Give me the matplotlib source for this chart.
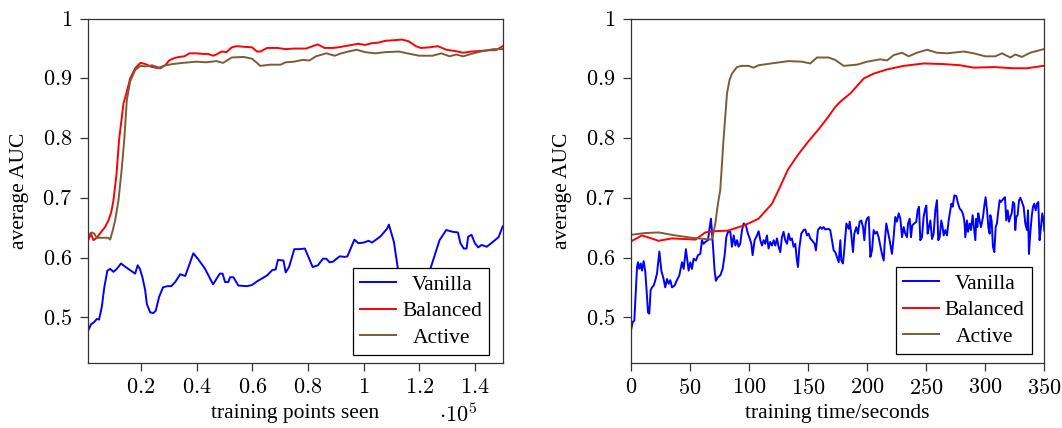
import matplotlib
matplotlib.use("Agg")
import matplotlib.pyplot as plt
from matplotlib.ticker import FixedLocator

# ---------------- data ----------------
# left panel: x in units of 1e5 training points
left_vanilla_x = [0.0105, 0.020, 0.032, 0.041, 0.049, 0.059, 0.068, 0.079, 0.089, 0.101, 0.113, 0.128,
                  0.142, 0.154, 0.179, 0.188, 0.196, 0.205, 0.215, 0.221, 0.233, 0.245, 0.253, 0.265,
                  0.279, 0.294, 0.309, 0.323, 0.341, 0.359, 0.388, 0.404, 0.429, 0.459, 0.483, 0.493,
                  0.502, 0.514, 0.520, 0.532, 0.550, 0.581, 0.599, 0.617, 0.653, 0.672, 0.684, 0.692,
                  0.712, 0.720, 0.732, 0.751, 0.769, 0.789, 0.817, 0.836, 0.854, 0.866, 0.878, 0.890,
                  0.914, 0.933, 0.942, 0.967, 0.981, 1.000, 1.018, 1.030, 1.060, 1.084, 1.091, 1.109,
                  1.13, 1.17, 1.21, 1.242, 1.273, 1.297, 1.321, 1.339, 1.348, 1.360, 1.370, 1.376,
                  1.388, 1.400, 1.412, 1.424, 1.443, 1.464, 1.485, 1.500]
left_vanilla_y = [0.478, 0.488, 0.492, 0.497, 0.496, 0.517, 0.550, 0.578, 0.581, 0.576, 0.581, 0.590,
                  0.585, 0.581, 0.573, 0.587, 0.581, 0.567, 0.545, 0.522, 0.508, 0.507, 0.511, 0.534,
                  0.550, 0.552, 0.552, 0.559, 0.572, 0.569, 0.607, 0.598, 0.582, 0.555, 0.573, 0.573,
                  0.559, 0.559, 0.567, 0.567, 0.553, 0.552, 0.554, 0.560, 0.570, 0.579, 0.580, 0.596,
                  0.595, 0.575, 0.584, 0.614, 0.614, 0.615, 0.584, 0.587, 0.598, 0.598, 0.592, 0.593,
                  0.602, 0.601, 0.602, 0.630, 0.624, 0.625, 0.628, 0.625, 0.635, 0.648, 0.655, 0.626,
                  0.560, 0.545, 0.555, 0.584, 0.629, 0.646, 0.643, 0.642, 0.624, 0.615, 0.615, 0.635,
                  0.638, 0.624, 0.617, 0.621, 0.618, 0.626, 0.634, 0.652]

left_balanced_x = [0.0105, 0.013, 0.020, 0.029, 0.041, 0.057, 0.071, 0.083, 0.093, 0.101, 0.112, 0.121,
                   0.137, 0.149, 0.161, 0.179, 0.198, 0.216, 0.234, 0.252, 0.270, 0.289, 0.301, 0.319,
                   0.337, 0.356, 0.374, 0.398, 0.422, 0.441, 0.459, 0.471, 0.489, 0.507, 0.526, 0.544,
                   0.568, 0.599, 0.617, 0.629, 0.653, 0.690, 0.720, 0.750, 0.793, 0.817, 0.835, 0.860,
                   0.890, 0.908, 0.933, 0.957, 0.981, 1.005, 1.030, 1.054, 1.078, 1.109, 1.139, 1.163,
                   1.188, 1.206, 1.236, 1.267, 1.297, 1.327, 1.358, 1.388, 1.418, 1.449, 1.479, 1.500]
left_balanced_y = [0.629, 0.632, 0.640, 0.629, 0.633, 0.643, 0.651, 0.662, 0.676, 0.696, 0.740, 0.797,
                   0.858, 0.878, 0.900, 0.917, 0.926, 0.924, 0.920, 0.918, 0.917, 0.923, 0.930, 0.934,
                   0.936, 0.937, 0.942, 0.942, 0.941, 0.941, 0.938, 0.940, 0.945, 0.944, 0.952, 0.954,
                   0.953, 0.952, 0.945, 0.945, 0.951, 0.951, 0.949, 0.950, 0.950, 0.954, 0.957, 0.951,
                   0.951, 0.952, 0.954, 0.956, 0.958, 0.956, 0.959, 0.960, 0.963, 0.964, 0.965, 0.962,
                   0.954, 0.951, 0.952, 0.954, 0.948, 0.946, 0.943, 0.945, 0.946, 0.947, 0.948, 0.954]

left_active_x = [0.0105, 0.0227, 0.032, 0.041, 0.053, 0.071, 0.083, 0.089, 0.097, 0.107, 0.119, 0.130,
                 0.140, 0.149, 0.161, 0.179, 0.198, 0.216, 0.240, 0.264, 0.289, 0.313, 0.350, 0.374,
                 0.398, 0.435, 0.471, 0.495, 0.526, 0.568, 0.599, 0.629, 0.665, 0.702, 0.720, 0.750,
                 0.781, 0.805, 0.829, 0.866, 0.896, 0.920, 0.945, 0.975, 1.005, 1.042, 1.078, 1.127,
                 1.157, 1.200, 1.248, 1.279, 1.309, 1.333, 1.358, 1.394, 1.431, 1.467, 1.500]
left_active_y = [0.638, 0.642, 0.640, 0.633, 0.633, 0.633, 0.633, 0.630, 0.643, 0.662, 0.696, 0.745,
                 0.799, 0.864, 0.895, 0.914, 0.921, 0.920, 0.922, 0.918, 0.922, 0.924, 0.926, 0.927,
                 0.928, 0.927, 0.929, 0.926, 0.935, 0.936, 0.933, 0.921, 0.923, 0.923, 0.927, 0.928,
                 0.931, 0.930, 0.937, 0.942, 0.938, 0.942, 0.945, 0.948, 0.944, 0.942, 0.944, 0.945,
                 0.942, 0.938, 0.938, 0.942, 0.937, 0.940, 0.937, 0.942, 0.946, 0.949, 0.949]

# right panel: x in seconds
right_vanilla_x = [0.0, 1.4, 2.8, 5.1, 5.9, 7.0, 8.2, 9.3, 10.7, 12.1, 13.2, 14.4, 15.5, 16.6, 17.8,
                   19.2, 20.6, 22.0, 24.0, 25.7, 27.6, 29.0, 30.5, 31.9, 33.3, 34.7, 36.9, 38.9, 40.9,
                   43.2, 44.6, 46.5, 48.8, 50.2, 51.6, 53.0, 55.0, 56.7, 58.7, 60.1, 61.5, 62.9, 65.2,
                   66.3, 67.7, 69.1, 70.8, 71.9, 73.6, 75.6, 77.6, 79.3, 80.7, 82.1, 84.1, 85.5, 87.0,
                   88.4, 89.8, 91.1, 92.5, 94.0, 95.4, 97.3, 99.0, 100.2, 101.9, 103.0, 104.7, 106.7,
                   108.1, 109.5, 110.9, 112.3, 113.7, 115.1, 116.5, 117.9, 119.4, 120.8, 122.2, 123.6,
                   125.0, 126.4, 127.8, 129.2, 130.6, 132.1, 133.5, 134.9, 136.3, 137.7, 139.1, 140.5,
                   141.4, 142.5, 144.2, 146.2, 147.6, 149.0, 150.4, 151.8, 153.2, 155.5, 156.6, 158.3,
                   160.3, 161.7, 163.1, 164.5, 167.3, 168.7, 170.2,
                   171.6, 173.0, 174.4, 175.9, 177.3, 178.1, 179.5, 180.7, 182.4, 184.3, 185.2, 186.3,
                   188.0, 189.1, 190.8, 192.2, 193.6, 195.0, 196.5, 197.6, 198.7, 199.8, 201.3, 202.7,
                   204.1, 205.5, 206.9, 208.3, 209.7, 211.1, 212.5, 214.0, 214.8, 216.2, 217.3, 219.0,
                   221.0, 222.4, 223.8, 225.2, 226.7, 228.1, 229.5, 230.9, 232.3, 233.7, 234.6, 236.0,
                   237.1, 238.2, 239.9, 241.6, 242.7, 243.9, 245.0, 246.4, 247.8, 249.2, 250.1, 251.2,
                   252.3, 253.5, 254.9, 256.3, 257.7, 259.1, 260.2, 261.4, 262.8, 263.9, 264.8, 266.2,
                   267.6, 269.0, 270.4, 271.3, 272.4, 273.8, 275.5, 276.6, 278.3, 279.7, 280.9, 281.7,
                   282.5, 283.1, 284.5, 285.4, 286.8, 287.9, 289.3, 290.4, 291.6, 292.4, 293.3, 294.1,
                   295.2, 296.4, 298.1, 299.2, 300.3, 301.5, 302.6, 303.7, 304.3, 305.4, 306.5, 307.7,
                   308.8, 309.9, 310.8, 312.2, 313.3, 314.4, 315.6, 316.7, 317.8, 319.0, 320.1, 321.2,
                   322.4, 323.5, 324.6, 325.4, 326.3, 327.4, 328.6, 329.7, 331.1, 332.5, 333.9, 335.3,
                   336.2, 337.0, 338.1, 339.3, 340.4, 341.5, 342.7, 343.8, 344.9, 346.0, 347.2, 348.3,
                   349.4, 350.0]
right_vanilla_y = [0.478, 0.492, 0.494, 0.584, 0.592, 0.581, 0.590, 0.578, 0.594, 0.576, 0.545, 0.508,
                   0.506, 0.545, 0.550, 0.553, 0.562, 0.573, 0.610, 0.578, 0.564, 0.550, 0.564, 0.556,
                   0.562, 0.550, 0.553, 0.562, 0.570, 0.592, 0.581, 0.614, 0.578, 0.592, 0.581, 0.598,
                   0.595, 0.604, 0.606, 0.629, 0.623, 0.626, 0.629, 0.646, 0.665, 0.629, 0.578, 0.561,
                   0.567, 0.570, 0.581, 0.604, 0.634, 0.643, 0.643, 0.618, 0.637, 0.620, 0.629, 0.618,
                   0.623, 0.646, 0.657, 0.654, 0.640, 0.634, 0.623, 0.604, 0.629, 0.637, 0.644, 0.629,
                   0.620, 0.629, 0.623, 0.637, 0.615, 0.626, 0.620, 0.629, 0.620, 0.632, 0.618, 0.609,
                   0.634, 0.643, 0.629, 0.623, 0.640, 0.629, 0.632, 0.618, 0.623, 0.595, 0.584, 0.615,
                   0.640, 0.646, 0.647, 0.637, 0.640, 0.632, 0.629, 0.623, 0.612, 0.646, 0.651, 0.648,
                   0.651, 0.647, 0.648, 0.646, 0.629,
                   0.612, 0.609, 0.601, 0.592, 0.629, 0.595, 0.590, 0.615, 0.657, 0.648, 0.660, 0.643,
                   0.609, 0.640, 0.651, 0.640, 0.660, 0.662, 0.651, 0.629, 0.657, 0.665, 0.668, 0.601,
                   0.612, 0.646, 0.640, 0.643, 0.634, 0.620, 0.606, 0.595, 0.623, 0.657, 0.646, 0.629,
                   0.606, 0.634, 0.668, 0.660, 0.674, 0.665, 0.634, 0.651, 0.640, 0.634, 0.657, 0.665,
                   0.634, 0.654, 0.657, 0.660, 0.679, 0.685, 0.629, 0.634, 0.668, 0.682, 0.687, 0.640,
                   0.651, 0.662, 0.631, 0.640, 0.679, 0.696, 0.629, 0.634, 0.662, 0.651, 0.637, 0.646,
                   0.637, 0.662, 0.679, 0.690, 0.685, 0.704, 0.703, 0.693, 0.682, 0.679, 0.674, 0.668,
                   0.657, 0.634, 0.662, 0.643, 0.657, 0.646, 0.671, 0.651, 0.629, 0.665, 0.651, 0.674,
                   0.662, 0.651, 0.668, 0.687, 0.701, 0.679, 0.651, 0.640, 0.671, 0.662, 0.618, 0.609,
                   0.651, 0.657, 0.674, 0.696, 0.693, 0.696, 0.699, 0.701, 0.662, 0.679, 0.660, 0.668,
                   0.674, 0.693, 0.690, 0.646, 0.668, 0.671, 0.696, 0.700, 0.693, 0.685, 0.657, 0.646,
                   0.679, 0.606, 0.640, 0.668, 0.685, 0.690, 0.679, 0.690, 0.693, 0.629, 0.651, 0.674,
                   0.662, 0.645]

right_balanced_x = [0.0, 9.3, 23.4, 34.7, 54.5, 62.9, 69.7, 82.1, 89.8, 96.2, 108.0, 119.4, 125.0,
                    132.8, 141.4, 150.0, 158.6, 167.2, 172.9, 177.3, 185.8, 197.2, 205.5, 216.8,
                    230.9, 247.8, 264.8, 278.9, 290.2, 307.8, 315.6, 324.0, 335.3, 349.4, 350.0]
right_balanced_y = [0.627, 0.637, 0.628, 0.632, 0.630, 0.642, 0.644, 0.645, 0.650, 0.654, 0.665, 0.690,
                    0.713, 0.747, 0.772, 0.794, 0.814, 0.836, 0.852, 0.861, 0.875, 0.900, 0.908, 0.915,
                    0.921, 0.925, 0.924, 0.922, 0.918, 0.919, 0.918, 0.917, 0.917, 0.921, 0.921]

right_active_x = [0.0, 12.1, 23.4, 37.5, 51.6, 62.9, 68.0, 69.1, 71.4, 73.6, 75.6, 78.4, 81.3, 83.5,
                  85.5, 89.7, 94.0, 99.6, 103.8, 108.0, 122.2, 133.5, 144.8, 151.8, 157.5, 167.3,
                  172.9, 180.1, 191.4, 199.8, 211.1, 216.8, 222.4, 229.5, 235.1, 242.2, 250.7, 259.1,
                  267.6, 281.7, 290.2, 300.0, 308.5, 314.2, 321.2, 325.4, 331.1, 338.1, 349.4, 350.0]
right_active_y = [0.638, 0.641, 0.642, 0.637, 0.633, 0.631, 0.630, 0.634, 0.657, 0.690, 0.713, 0.799,
                  0.875, 0.898, 0.908, 0.919, 0.921, 0.921, 0.918, 0.922, 0.926, 0.929, 0.928, 0.925,
                  0.935, 0.935, 0.931, 0.921, 0.923, 0.928, 0.932, 0.930, 0.939, 0.943, 0.937, 0.943,
                  0.948, 0.943, 0.942, 0.945, 0.942, 0.937, 0.937, 0.942, 0.935, 0.940, 0.936, 0.943,
                  0.949, 0.949]

series_labels = ["Vanilla", "Balanced", "Active"]
left_xticks = [0.2, 0.4, 0.6, 0.8, 1.0, 1.2, 1.4]
left_xticklabels = ["0.2", "0.4", "0.6", "0.8", "1", "1.2", "1.4"]
right_xticks = [0, 50, 100, 150, 200, 250, 300, 350]
yticks = [0.5, 0.6, 0.7, 0.8, 0.9, 1.0]
yticklabels = ["0.5", "0.6", "0.7", "0.8", "0.9", "1"]

# ---------------- style ----------------
plt.rcParams['mathtext.fontset'] = 'cm'
plt.rcParams['font.family'] = ['Liberation Serif', 'DejaVu Serif']
FS_TICK = 16
FS_TEXT = 15.5
colors = ['#0000ff', '#ff0000', '#7d5b38']
spine_col = '#333333'

fig = plt.figure(figsize=(10.62, 4.28), dpi=100)
W, H = 1062.0, 428.0
axL = fig.add_axes([88.3 / W, 1 - 363 / H, 414.4 / W, 344.3 / H])
axR = fig.add_axes([631.0 / W, 1 - 363 / H, 413.3 / W, 344.3 / H])

def style_axis(ax):
    for s in ax.spines.values():
        s.set_color(spine_col)
        s.set_linewidth(0.9)
    ax.tick_params(direction='out', length=5.5, width=0.9, color=spine_col,
                   top=False, right=False, pad=6)
    ax.set_ylim(0.4233, 1.0)
    ax.yaxis.set_major_locator(FixedLocator(yticks))
    ax.set_yticklabels(['$%s$' % t for t in yticklabels], fontsize=FS_TICK)
    ax.set_ylabel("average AUC", fontsize=FS_TEXT, va='center')
    ax.yaxis.set_label_coords(-0.165, 0.5)

def add_legend(ax, anchor):
    leg = ax.legend(series_labels, loc='lower right', bbox_to_anchor=anchor,
                    borderaxespad=0, fontsize=FS_TEXT, frameon=True, fancybox=False,
                    edgecolor='black', framealpha=1, handlelength=1.67,
                    handletextpad=0.28, borderpad=0.33, labelspacing=0.3)
    leg.get_frame().set_linewidth(0.9)
    return leg

# left panel
lw = 1.4
axL.plot(left_vanilla_x, left_vanilla_y, color=colors[0], lw=lw)
axL.plot(left_balanced_x, left_balanced_y, color=colors[1], lw=lw)
axL.plot(left_active_x, left_active_y, color=colors[2], lw=lw)
axL.set_xlim(0.0105, 1.5)
axL.xaxis.set_major_locator(FixedLocator(left_xticks))
axL.set_xticklabels(['$%s$' % t for t in left_xticklabels], fontsize=FS_TICK)
style_axis(axL)
axL.set_xlabel("training points seen", fontsize=FS_TEXT)
axL.xaxis.set_label_coords(0.5, -0.147)
axL.xaxis.label.set_va('center')
fig.text(458 / W, 1.5 / H, r'$\cdot 10^{5}$', fontsize=FS_TICK, ha='center', va='bottom')
legL = add_legend(axL, (0.967, 0.023))

# right panel
axR.plot(right_vanilla_x, right_vanilla_y, color=colors[0], lw=lw)
axR.plot(right_balanced_x, right_balanced_y, color=colors[1], lw=lw)
axR.plot(right_active_x, right_active_y, color=colors[2], lw=lw)
axR.set_xlim(0, 350)
axR.xaxis.set_major_locator(FixedLocator(right_xticks))
axR.set_xticklabels(['$%d$' % t for t in right_xticks], fontsize=FS_TICK)
style_axis(axR)
axR.set_xlabel("training time/seconds", fontsize=FS_TEXT)
axR.xaxis.set_label_coords(0.5, -0.147)
axR.xaxis.label.set_va('center')
legR = add_legend(axR, (0.970, 0.026))

# centre legend texts like the original
fig.canvas.draw()
r = fig.canvas.get_renderer()
for leg in (legL, legR):
    texts = leg.get_texts()
    ws = [t.get_window_extent(r).width for t in texts]
    m = max(ws)
    for t, w in zip(texts, ws):
        t.set_x((m - w) / 2.0)

fig.savefig("out.png", dpi=100)
